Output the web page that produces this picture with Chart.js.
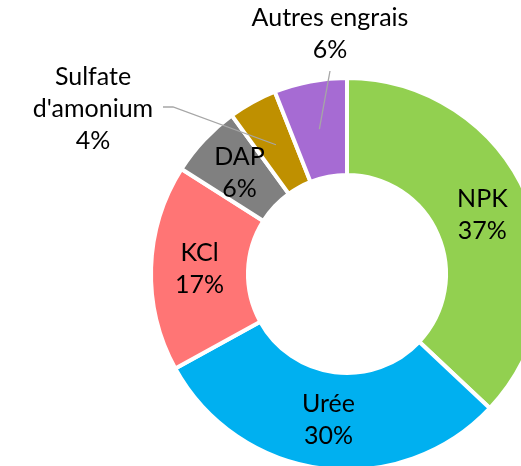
<!DOCTYPE html>
<html>
<head>
<meta charset="utf-8">
<script src="https://cdn.jsdelivr.net/npm/chart.js@4"></script>
<style>
  html, body { margin: 0; padding: 0; background: #fff; overflow: hidden; width: 521px; height: 466px; }
  #chart { position: absolute; left: 0; top: 0; }
</style>
</head>
<body>
<canvas id="chart" width="560" height="480"></canvas>
<script>
// données du graphique
const categories = ['NPK', 'Urée', 'KCl', 'DAP', "Sulfate d'amonium", 'Autres engrais'];
const shares = [37, 30, 17, 6, 4, 6];
const labelLines = [['NPK'], ['Urée'], ['KCl'], ['DAP'], ['Sulfate', "d'amonium"], ['Autres engrais']];
const colors = ['#92D050', '#00B0F0', '#FF7575', '#808080', '#BF9000', '#A66BD3'];

// étiquettes placées hors de l'anneau (position du texte + départ du trait)
const outsideLabels = {
    4: { x: 93, y: 77, lineFrom: [163, 107], elbow: [173, 107] },
    5: { x: 330, y: 18, lineFrom: [330, 71] }
};

const FONT = '25px Lato';
const LINE_H = 32;

const labelPlugin = {
    id: 'sliceLabels',
    afterDatasetsDraw(chart) {
        const ctx = chart.ctx;
        const meta = chart.getDatasetMeta(0);
        ctx.save();
        ctx.font = FONT;
        ctx.fillStyle = '#000';
        ctx.textAlign = 'center';
        ctx.textBaseline = 'middle';
        meta.data.forEach((arc, i) => {
            const p = arc.tooltipPosition();
            const lines = labelLines[i].concat([shares[i] + '%']);
            const out = outsideLabels[i];
            if (out) {
                ctx.strokeStyle = '#A6A6A6';
                ctx.lineWidth = 1.3;
                ctx.beginPath();
                ctx.moveTo(out.lineFrom[0], out.lineFrom[1]);
                if (out.elbow) ctx.lineTo(out.elbow[0], out.elbow[1]);
                ctx.lineTo(p.x, p.y);
                ctx.stroke();
                lines.forEach((t, k) => ctx.fillText(t, out.x, out.y + k * LINE_H));
            } else {
                const y0 = p.y - (lines.length - 1) * LINE_H / 2;
                lines.forEach((t, k) => ctx.fillText(t, p.x, y0 + k * LINE_H));
            }
        });
        ctx.restore();
    }
};

new Chart(document.getElementById('chart'), {
    type: 'doughnut',
    data: {
        labels: categories,
        datasets: [{
            data: shares,
            backgroundColor: colors,
            borderColor: '#fff',
            borderWidth: 4
        }]
    },
    options: {
        responsive: false,
        animation: false,
        devicePixelRatio: 1,
        radius: 196,
        cutout: 97,
        layout: { padding: { left: 153, top: 80, right: 19, bottom: 12 } },
        plugins: {
            legend: { display: false },
            tooltip: { enabled: false }
        }
    },
    plugins: [labelPlugin]
});
</script>
</body>
</html>
